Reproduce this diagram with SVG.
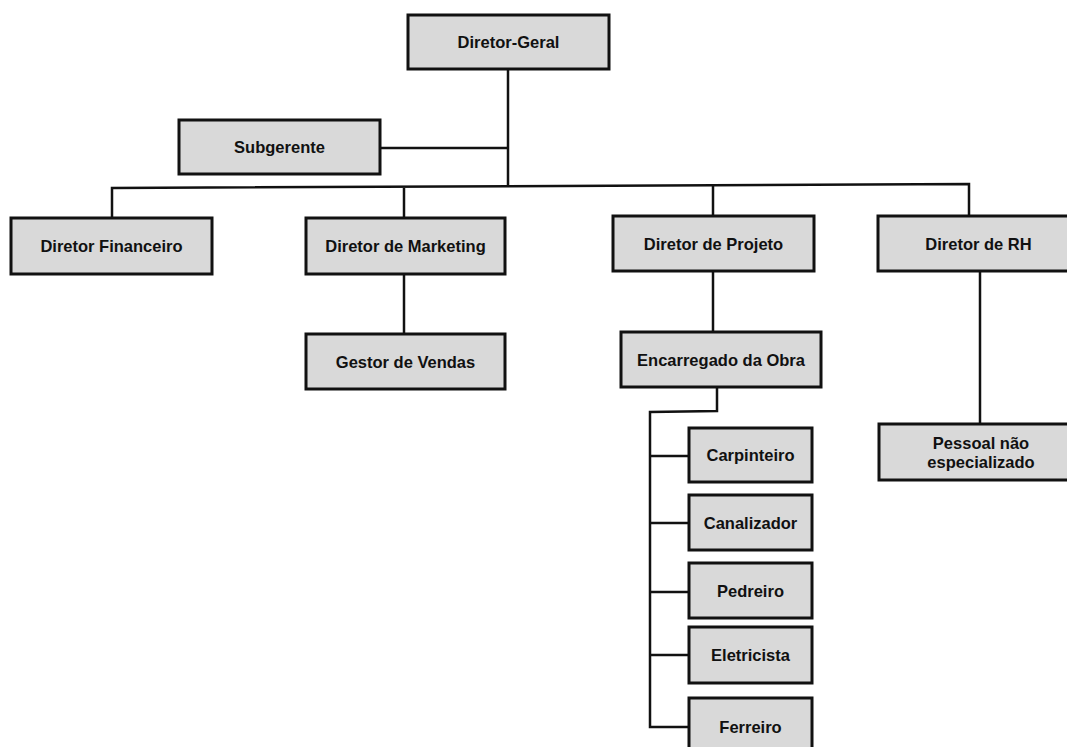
<svg xmlns="http://www.w3.org/2000/svg" width="1067" height="747" viewBox="0 0 1067 747">
<style>
.box{fill:#d9d9d9;stroke:#111;stroke-width:3}
.lbl{font-family:"Liberation Sans",Arial,sans-serif;font-weight:bold;font-size:16.5px;fill:#111;text-anchor:middle;dominant-baseline:central}
.conn{fill:none;stroke:#111;stroke-width:2.5}
</style>
<rect width="1067" height="747" fill="#fff"/>
<g id="connectors">
<polyline class="conn" points="508,69 508,187"/>
<polyline class="conn" points="380,148 508,148"/>
<polyline class="conn" points="112,218 112,188 969,184 969,216"/>
<polyline class="conn" points="404,188 404,218"/>
<polyline class="conn" points="713,185 713,216"/>
<polyline class="conn" points="404,274 404,334"/>
<polyline class="conn" points="713,271 713,332"/>
<polyline class="conn" points="980,271 980,424"/>
<polyline class="conn" points="717,387 717,411 650,412 650,727 689,727"/>
<polyline class="conn" points="650,456 689,456"/>
<polyline class="conn" points="650,523 689,523"/>
<polyline class="conn" points="650,592 689,592"/>
<polyline class="conn" points="650,655 689,655"/>
</g>
<g id="diretor-geral"><rect class="box" x="408" y="15" width="201" height="54"/><text class="lbl" x="508.5" y="42">Diretor-Geral</text></g>
<g id="subgerente"><rect class="box" x="179" y="120" width="201" height="54"/><text class="lbl" x="279.5" y="147">Subgerente</text></g>
<g id="diretor-financeiro"><rect class="box" x="11" y="218" width="201" height="56"/><text class="lbl" x="111.5" y="246">Diretor Financeiro</text></g>
<g id="diretor-marketing"><rect class="box" x="306" y="218" width="199" height="56"/><text class="lbl" x="405.5" y="246">Diretor de Marketing</text></g>
<g id="diretor-projeto"><rect class="box" x="613" y="216" width="201" height="55"/><text class="lbl" x="713.5" y="243.5">Diretor de Projeto</text></g>
<g id="diretor-rh"><rect class="box" x="878" y="216" width="201" height="55"/><text class="lbl" x="978.5" y="243.5">Diretor de RH</text></g>
<g id="gestor-vendas"><rect class="box" x="306" y="334" width="199" height="55"/><text class="lbl" x="405.5" y="361.5">Gestor de Vendas</text></g>
<g id="encarregado-obra"><rect class="box" x="621" y="332" width="200" height="55"/><text class="lbl" x="721" y="359.5">Encarregado da Obra</text></g>
<g id="pessoal"><rect class="box" x="879" y="424" width="201" height="56"/><text class="lbl" x="981" y="443">Pessoal não</text><text class="lbl" x="981" y="462">especializado</text></g>
<g id="carpinteiro"><rect class="box" x="689" y="428" width="123" height="54"/><text class="lbl" x="750.5" y="455">Carpinteiro</text></g>
<g id="canalizador"><rect class="box" x="689" y="495" width="123" height="55"/><text class="lbl" x="750.5" y="522.5">Canalizador</text></g>
<g id="pedreiro"><rect class="box" x="689" y="563" width="123" height="55"/><text class="lbl" x="750.5" y="590.5">Pedreiro</text></g>
<g id="eletricista"><rect class="box" x="689" y="627" width="123" height="56"/><text class="lbl" x="750.5" y="655">Eletricista</text></g>
<g id="ferreiro"><rect class="box" x="689" y="698" width="123" height="58"/><text class="lbl" x="750.5" y="727">Ferreiro</text></g>
</svg>
